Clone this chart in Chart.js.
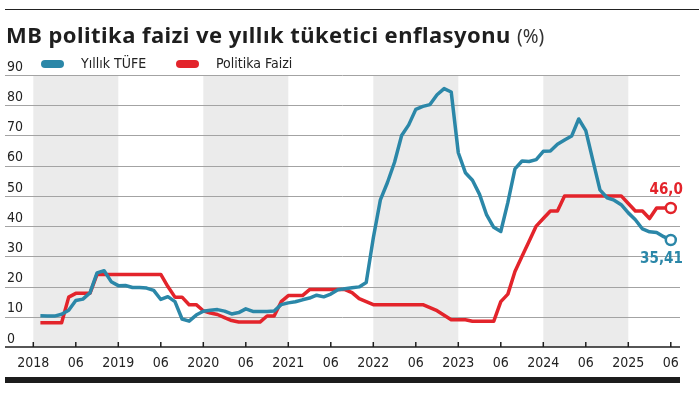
<!DOCTYPE html>
<html lang="tr">
<head>
<meta charset="utf-8">
<title>MB politika faizi ve yıllık tüketici enflasyonu</title>
<script src="https://cdn.jsdelivr.net/npm/chart.js@4/dist/chart.umd.min.js"></script>
<style>
  html, body { margin: 0; padding: 0; background: #fff; }
  #wrap { position: relative; width: 699px; height: 397px; overflow: hidden; }
  #title {
    position: absolute; left: 6px; top: 19px; white-space: nowrap;
    font-family: 'Noto Sans', sans-serif; font-weight: 700; font-size: 22px;
    color: #1e1e1e; letter-spacing: 0.45px;
  }
  #title span { font-weight: 400; font-size: 19px; color: #333; letter-spacing: 0; }
  canvas { position: absolute; left: 0; top: 0; }
</style>
</head>
<body>
<div id="wrap">
  <canvas id="chart" width="699" height="397"></canvas>
  <div id="title">MB politika faizi ve yıllık tüketici enflasyonu <span>(%)</span></div>
</div>
<script>
// aylık veriler, Ocak 2018 - Haziran 2025
var yillar = [2018, 2019, 2020, 2021, 2022, 2023, 2024, 2025];
var golgeliYillar = [2018, 2020, 2022, 2024];

// yıllık TÜFE (%)
var tufe = [
  10.35, 10.26, 10.23, 10.85, 12.15, 15.39, 15.85, 17.90, 24.52, 25.24, 21.62, 20.30,
  20.35, 19.67, 19.71, 19.50, 18.71, 15.72, 16.65, 15.01, 9.26, 8.55, 10.56, 11.84,
  12.15, 12.37, 11.86, 10.94, 11.39, 12.62, 11.76, 11.77, 11.75, 11.89, 14.03, 14.60,
  14.97, 15.61, 16.19, 17.14, 16.59, 17.53, 18.95, 19.25, 19.58, 19.89, 21.31, 36.08,
  48.69, 54.44, 61.14, 69.97, 73.50, 78.62, 79.60, 80.21, 83.45, 85.51, 84.39, 64.27,
  57.68, 55.18, 50.51, 43.68, 39.59, 38.21, 47.83, 58.94, 61.53, 61.36, 61.98, 64.77,
  64.86, 67.07, 68.50, 69.80, 75.45, 71.60, 61.78, 51.97, 49.38, 48.58, 47.09, 44.38,
  42.12, 39.05, 38.10, 37.86, 36.50, 35.41
];

// politika faizi (%)
var faiz = [
  8, 8, 8, 8, 16.5, 17.75, 17.75, 17.75, 24, 24, 24, 24,
  24, 24, 24, 24, 24, 24, 20, 16.5, 16.5, 14, 14, 12,
  11.25, 10.75, 9.75, 8.75, 8.25, 8.25, 8.25, 8.25, 10.25, 10.25, 15, 17,
  17, 17, 19, 19, 19, 19, 19, 19, 18, 16, 15, 14,
  14, 14, 14, 14, 14, 14, 14, 13, 12, 10.5, 9, 9,
  9, 8.5, 8.5, 8.5, 8.5, 15, 17.5, 25, 30, 35, 40, 42.5,
  45, 45, 50, 50, 50, 50, 50, 50, 50, 50, 50, 47.5,
  45, 45, 42.5, 46, 46, 46
];

var sonEtiketler = ['35,41', '46,0'];
var mavi = '#2b87a8';
var kirmizi = '#e3242b';
var yazi = "'Liberation Sans Narrow', 'DejaVu Sans Condensed', 'Roboto Condensed', sans-serif";

function noktalar(arr) {
  return arr.map(function (v, i) { return { x: i + 1, y: v }; });
}
function sonNokta(ctx) {
  return ctx.dataIndex === ctx.dataset.data.length - 1 ? 5 : 0;
}

var cizimler = {
  id: 'cizimler',
  beforeDraw: function (chart) {
    var c = chart.ctx, xs = chart.scales.x, ys = chart.scales.y;
    var ust = ys.getPixelForValue(90), alt = ys.getPixelForValue(0);
    c.save();
    c.fillStyle = '#fff';
    c.fillRect(0, 0, chart.width, chart.height);
    // gölgeli yıllar
    c.fillStyle = '#ebebeb';
    golgeliYillar.forEach(function (y) {
      var a = xs.getPixelForValue((y - 2018) * 12), b = xs.getPixelForValue((y - 2017) * 12);
      c.fillRect(a, ust, b - a, alt - ust);
    });
    // yatay çizgiler
    c.strokeStyle = '#a3a3a3';
    c.lineWidth = 1;
    for (var v = 10; v <= 90; v += 10) {
      var py = Math.round(ys.getPixelForValue(v)) + 0.5;
      c.beginPath(); c.moveTo(5, py); c.lineTo(xs.right, py); c.stroke();
    }
    // üst çizgi ve alt bant
    c.strokeStyle = '#222';
    c.beginPath(); c.moveTo(5, 9.5); c.lineTo(chart.width, 9.5); c.stroke();
    c.fillStyle = '#1c1c1c';
    c.fillRect(5, 377, xs.right - 5, 6);
    c.restore();
  },
  afterDatasetsDraw: function (chart) {
    var c = chart.ctx, xs = chart.scales.x, ys = chart.scales.y;
    var alt = ys.getPixelForValue(0);
    c.save();
    // x ekseni
    c.strokeStyle = '#1e1e1e';
    c.lineWidth = 1.5;
    c.beginPath(); c.moveTo(5, alt); c.lineTo(xs.right, alt); c.stroke();
    xs.ticks.forEach(function (t) {
      var px = xs.getPixelForValue(t.value);
      c.beginPath(); c.moveTo(px, alt); c.lineTo(px, alt - 5); c.stroke();
    });
    // son değer etiketleri
    c.font = 'bold 15px ' + yazi;
    c.textAlign = 'right';
    c.textBaseline = 'middle';
    chart.data.datasets.forEach(function (ds, i) {
      var meta = chart.getDatasetMeta(i);
      var p = meta.data[meta.data.length - 1];
      var dy = i === 0 ? 19 : -18;
      c.fillStyle = ds.borderColor;
      c.fillText(sonEtiketler[i], p.x + 12, p.y + dy);
    });
    // lejant
    var lx = [41, 176];
    c.font = '14px ' + yazi;
    c.textAlign = 'left';
    chart.data.datasets.forEach(function (ds, i) {
      c.fillStyle = ds.borderColor;
      c.beginPath();
      c.roundRect(lx[i], 60, 23, 8, 4);
      c.fill();
      c.fillStyle = '#222';
      c.fillText(ds.label, lx[i] + 40, 64.5);
    });
    c.restore();
  }
};

new Chart(document.getElementById('chart'), {
  type: 'line',
  data: {
    datasets: [{
      label: 'Yıllık TÜFE',
      data: noktalar(tufe),
      borderColor: mavi,
      backgroundColor: '#fff',
      borderWidth: 3.5,
      pointRadius: sonNokta,
      pointBorderWidth: 2.5,
      pointBackgroundColor: '#fff',
      pointBorderColor: mavi
    }, {
      label: 'Politika Faizi',
      data: noktalar(faiz),
      borderColor: kirmizi,
      backgroundColor: '#fff',
      borderWidth: 3.5,
      pointRadius: sonNokta,
      pointBorderWidth: 2.5,
      pointBackgroundColor: '#fff',
      pointBorderColor: kirmizi
    }]
  },
  options: {
    responsive: false,
    animation: false,
    layout: { padding: { left: 7, top: 75, right: 19, bottom: 0 } },
    plugins: { legend: { display: false }, tooltip: { enabled: false } },
    elements: { line: { tension: 0, borderJoinStyle: 'round' } },
    scales: {
      x: {
        type: 'linear',
        min: 0,
        max: 91.3,
        afterBuildTicks: function (s) {
          var t = [];
          for (var m = 0; m <= 90; m += 6) t.push({ value: m });
          s.ticks = t;
        },
        afterFit: function (s) { s.height = 50; },
        grid: { display: false },
        border: { display: false },
        ticks: {
          autoSkip: false,
          maxRotation: 0,
          padding: 0,
          color: '#222',
          font: { family: yazi, size: 14 },
          callback: function (v) {
            return v % 12 === 0 ? String(yillar[v / 12]) : '06';
          }
        }
      },
      y: {
        min: 0,
        max: 90,
        afterFit: function (s) { s.width = 26.3; },
        grid: { display: false },
        border: { display: false },
        ticks: {
          stepSize: 10,
          crossAlign: 'far',
          labelOffset: -8,
          padding: 0,
          color: '#222',
          font: { family: yazi, size: 14 }
        }
      }
    }
  },
  plugins: [cizimler]
});
</script>
</body>
</html>
